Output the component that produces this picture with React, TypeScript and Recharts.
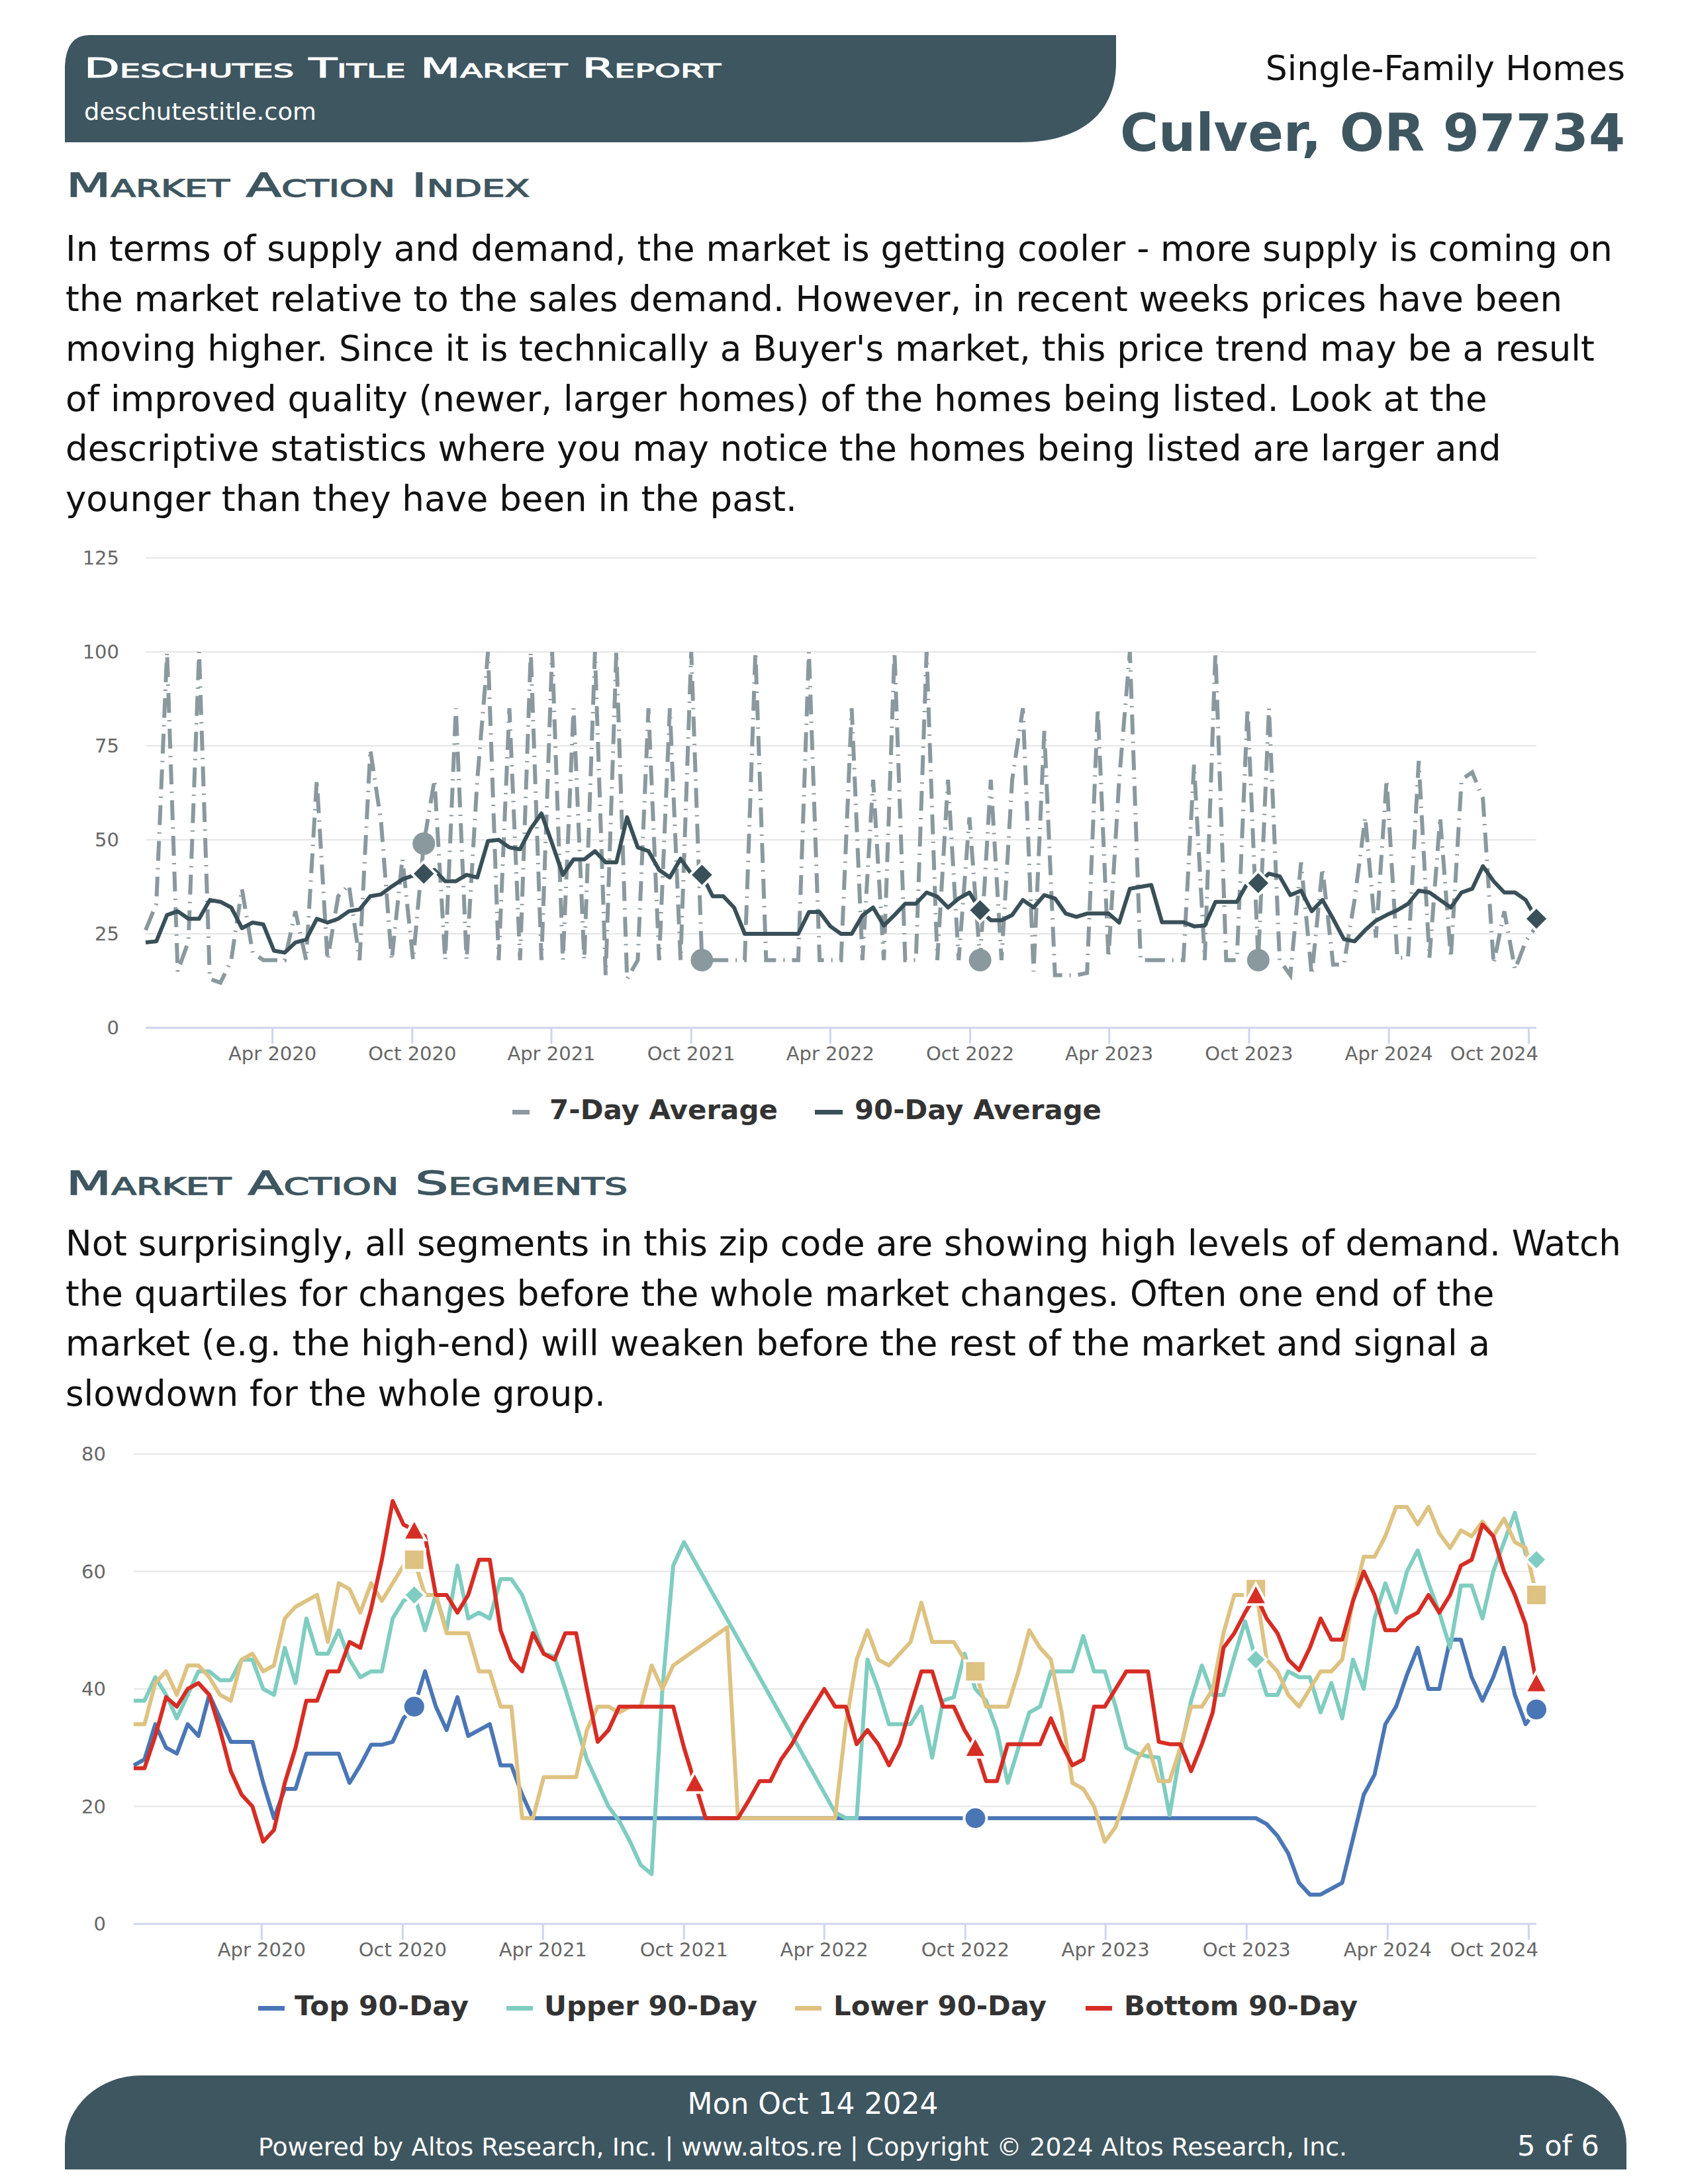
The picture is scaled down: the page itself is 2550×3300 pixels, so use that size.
import React from 'react'
import { LineChart, Line, XAxis, YAxis, CartesianGrid } from 'recharts'

const FONT = "'DejaVu Sans', Verdana, sans-serif"
const SLATE = '#3e5660'

// one reading every two weeks, the last one on 11 Oct 2024
const LAST_DAY = Date.UTC(2024, 9, 11)
const STEP_DAYS = 14
const DAY = 86400000

const tickDates = [
  Date.UTC(2020, 3, 1), Date.UTC(2020, 9, 1), Date.UTC(2021, 3, 1), Date.UTC(2021, 9, 1),
  Date.UTC(2022, 3, 1), Date.UTC(2022, 9, 1), Date.UTC(2023, 3, 1), Date.UTC(2023, 9, 1),
  Date.UTC(2024, 3, 1), Date.UTC(2024, 9, 1),
]
const tickLabels = [
  'Apr 2020', 'Oct 2020', 'Apr 2021', 'Oct 2021', 'Apr 2022',
  'Oct 2022', 'Apr 2023', 'Oct 2023', 'Apr 2024', 'Oct 2024',
]

// Market Action Index
const sevenDay = [
  26, 33, 100, 15, 23, 100, 13, 12, 18, 37,
  20, 18, 18, 18, 31, 18, 66, 18, 35, 38,
  18, 74, 55, 18, 45, 18, 49, 66, 18, 85,
  18, 66, 100, 18, 85, 18, 100, 18, 100, 18,
  85, 18, 100, 14, 100, 13, 18, 85, 18, 85,
  18, 100, 18, 18, 18, 18, 18, 100, 18, 18,
  18, 18, 100, 18, 18, 18, 85, 18, 66, 18,
  100, 18, 18, 100, 18, 66, 18, 56, 18, 66,
  18, 66, 85, 15, 79, 14, 14, 14, 14.6, 85,
  18.6, 66, 100, 18, 18, 18, 18, 18, 70, 18,
  100, 18, 18, 85, 18, 85, 18, 14, 44, 14,
  42.5, 16.8, 16.8, 34, 56, 24, 66, 18.6, 18.6, 71,
  18.6, 56, 18.6, 66, 68, 61, 17, 31, 15.5, 23,
  27,
]
const ninetyDay = [
  22.7, 23, 30, 31, 29, 29, 34, 33.5, 32, 26.5,
  28, 27.5, 20.5, 20, 22.7, 23.5, 29, 28, 29, 31,
  31.5, 35, 35.5, 37.6, 39.5, 40.5, 41, 42, 39, 39,
  40.7, 40, 49.7, 50, 48, 47.5, 53, 57, 49, 40.7,
  44.8, 44.8, 47, 44, 44, 56, 48, 47, 42, 40,
  45, 41, 40.7, 35, 35, 32, 25, 25, 25, 25,
  25, 25, 30.8, 30.8, 27, 25, 25, 29.9, 32, 27.2,
  30, 33, 33, 36, 34.9, 32, 34.4, 36, 31.3, 28.6,
  28.6, 30, 34, 32, 35.3, 34.4, 30.4, 29.5, 30.4, 30.4,
  30.4, 28, 37, 37.5, 38, 28.1, 28.1, 28.1, 27, 27.2,
  33.5, 33.5, 33.5, 38.5, 38.5, 41, 40.3, 35.3, 36.5, 31,
  34, 29, 23.6, 23, 26, 28.5, 30, 31.3, 33, 36.5,
  36, 34, 32, 36, 37, 43, 39, 36, 36, 34,
  29,
]

// Market Action Segments
const top90 = [
  27, 28, 34, 30, 29, 34, 32, 39, 35, 31,
  31, 31, 24, 18, 23, 23, 29, 29, 29, 29,
  24, 27, 30.5, 30.5, 31, 35, 37, 43, 37, 33,
  38.6, 32, 33, 34, 27, 27, 22, 18, 18, 18,
  18, 18, 18, 18, 18, 18, 18, 18, 18, 18,
  18, 18, 18, 18, 18, 18, 18, 18, 18, 18,
  18, 18, 18, 18, 18, 18, 18, 18, 18, 18,
  18, 18, 18, 18, 18, 18, 18, 18, 18, 18,
  18, 18, 18, 18, 18, 18, 18, 18, 18, 18,
  18, 18, 18, 18, 18, 18, 18, 18, 18, 18,
  18, 18, 18, 18, 18, 17, 15, 12, 7, 5,
  5, 6, 7, 14.5, 22, 25.4, 34, 37, 42.4, 47,
  40, 40, 48.4, 48.4, 42, 38, 42, 47, 39, 34,
  36.5,
]
const upper90 = [
  38, 38, 42, 39, 35, 39, 43, 43, 41.5, 41.5,
  45, 45, 40, 39, 47, 41, 52, 46, 46, 50,
  45, 42, 43, 43, 52, 55, 56, 50, 56, 50,
  61, 52, 53, 52, 58.7, 58.7, 56, 51, 46, 45.5,
  40, 34, 28, 24, 20, 17.5, 14, 10, 8.5, 40,
  61, 65, null, null, null, null, null, null, null, null,
  null, null, null, null, null, 19, 18, 18, 45, 40,
  34, 34, 34, 37, 28.3, 38, 38.6, 46, 40, 38,
  33, 24, 30, 36, 37, 43, 43, 43, 49, 43,
  43, 37, 30, 29, 28.5, 28.3, 18.5, 29.4, 38, 44,
  39, 39, 45.5, 51.5, 45, 39, 39, 43, 42, 42,
  36, 41, 35, 45, 40, 52, 58, 53, 60, 63.6,
  58, 53, 47, 57.6, 57.6, 52, 60, 65, 70, 63,
  62,
]
const lower90 = [
  34, 34, 41, 43, 39, 44, 44, 42, 39, 38,
  45, 46, 43, 44, 52, 54, 55, 56, 48, 58,
  57, 53, 58, 55, 58, 61, 62, 56, 56, 49.5,
  49.5, 49.5, 43, 43, 37, 37, 18, 18, 25, 25,
  25, 25, 33, 37, 37, 36, 37, 37, 44, 40,
  44, null, null, null, null, 50.5, 18, 18, 18, 18,
  18, 18, 18, 18, 18, 18, 34, 45, 50, 45,
  44, 46, 48, 54.7, 48, 48, 48, 45, 43, 37,
  37, 37, 43, 50, 47, 45, 36, 24, 23, 20,
  14, 16.5, 22, 28, 30.5, 24.3, 24.3, 30, 37, 37,
  40, 49.5, 56, 56, 57, 45, 43, 39, 37, 40,
  43, 43, 45, 55, 62.5, 62.5, 66, 71, 71, 68,
  71, 66.5, 64, 67, 66, 68.5, 66, 69, 65, 64,
  56,
]
const bottom90 = [
  26.5, 26.5, 32, 38.6, 37, 40, 41, 39, 33, 26,
  22, 20, 14, 16, 24, 30, 38, 38, 43, 43,
  48, 47, 53.6, 62, 72, 68, 67, 66, 56, 56,
  53, 56, 62, 62, 50, 45, 43, 49.5, 46, 45,
  49.5, 49.5, 40, 31, 33, 37, 37, 37, 37, 37,
  37, 30, 24, 18, 18, 18, 18, 21, 24.3, 24.3,
  28, 30.6, 34, 37, 40, 37, 37, 30.6, 33, 30.6,
  27, 30.6, 37, 43, 43, 37, 37, 33, 30, 24.3,
  24.3, 30.6, 30.6, 30.6, 30.6, 35, 30.6, 27, 28, 37,
  37, 40, 43, 43, 43, 31, 30.6, 30.6, 26, 30.6,
  36, 47, 49.5, 53, 56, 52, 49.5, 45, 43.2, 47,
  52, 48.4, 48.4, 55, 60, 56, 50, 50, 52, 53,
  56, 53, 56, 61, 62, 68, 66, 60, 56, 51,
  41,
]

// yearly markers (index of the reading)
const marks7 = [26, 52, 78, 104]
const marks90 = [26, 52, 78, 104, 130]
const marksTop = [26, 78, 130]
const marksUpper = [26, 104, 130]
const marksLower = [26, 78, 104, 130]
const marksBottom = [26, 52, 78, 104, 130]

const dateAt = (i: number, n: number) => LAST_DAY - (n - 1 - i) * STEP_DAYS * DAY

const indexData = sevenDay.map((v, i) => ({
  t: dateAt(i, sevenDay.length),
  d7: v,
  d90: ninetyDay[i],
}))

const segmentData = top90.map((v, i) => ({
  t: dateAt(i, top90.length),
  top: v,
  upper: upper90[i],
  lower: lower90[i],
  bottom: bottom90[i],
}))

function makeDot(keep: number[], shape: string, fill: string, r: number, ring: number) {
  return (p: any) => {
    const { cx, cy, index } = p
    if (cx == null || cy == null || !keep.includes(index)) return <g key={`n${index}`} />
    let el
    if (shape === 'circle') el = <circle cx={cx} cy={cy} r={r} />
    else if (shape === 'diamond')
      el = <path d={`M${cx},${cy - r}L${cx + r},${cy}L${cx},${cy + r}L${cx - r},${cy}Z`} />
    else if (shape === 'square') el = <rect x={cx - r} y={cy - r} width={2 * r} height={2 * r} />
    else el = <path d={`M${cx},${cy - r}L${cx + r},${cy + r * 0.85}L${cx - r},${cy + r * 0.85}Z`} />
    return (
      <g key={`m${index}`} fill={fill} stroke="#ffffff" strokeWidth={ring}>
        {el}
      </g>
    )
  }
}

function XTick(props: any) {
  const { x, y, payload } = props
  const i = tickDates.indexOf(payload.value)
  const last = i === tickDates.length - 1
  return (
    <text
      x={last ? 2324 : x}
      y={y + 25}
      textAnchor={last ? 'end' : 'middle'}
      fill="#666666"
      fontSize={29}
      fontFamily={FONT}
    >
      {tickLabels[i]}
    </text>
  )
}

const yTick = { fill: '#666666', fontSize: 29, fontFamily: FONT }
const axisLine = { stroke: '#ccd6eb', strokeWidth: 3 }

const para1 = [
  'In terms of supply and demand, the market is getting cooler - more supply is coming on',
  'the market relative to the sales demand. However, in recent weeks prices have been',
  "moving higher. Since it is technically a Buyer's market, this price trend may be a result",
  'of improved quality (newer, larger homes) of the homes being listed. Look at the',
  'descriptive statistics where you may notice the homes being listed are larger and',
  'younger than they have been in the past.',
]
const para2 = [
  'Not surprisingly, all segments in this zip code are showing high levels of demand. Watch',
  'the quartiles for changes before the whole market changes. Often one end of the',
  'market (e.g. the high-end) will weaken before the rest of the market and signal a',
  'slowdown for the whole group.',
]

const capsStyle = { fontVariant: 'small-caps' as const }

export default function App() {
  return (
    <div
      style={{
        position: 'absolute',
        left: 0,
        top: 0,
        width: 2550,
        height: 3300,
        background: '#ffffff',
        fontFamily: FONT,
      }}
    >
      <svg width={2550} height={3300} style={{ position: 'absolute', left: 0, top: 0 }}>
        {/* header */}
        <path d="M98,215 L98,100 Q100,53 135,53 L1686,53 L1686,95 C1686,165 1640,215 1540,215 Z" fill={SLATE} />
        <text x={127} y={117} fill="#ffffff" stroke="#ffffff" strokeWidth={1.1} fontSize={41} fontFamily={FONT}
          style={capsStyle} textLength={962} lengthAdjust="spacingAndGlyphs">
          Deschutes Title Market Report
        </text>
        <text x={127} y={181} fill="#ffffff" fontSize={36} fontFamily={FONT}
          textLength={351} lengthAdjust="spacingAndGlyphs">
          deschutestitle.com
        </text>
        <text x={2455} y={121} textAnchor="end" fill="#111111" fontSize={52} fontFamily={FONT}>
          Single-Family Homes
        </text>
        <text x={2455} y={228} textAnchor="end" fill={SLATE} fontSize={79} fontWeight="bold"
          fontFamily={FONT} textLength={763} lengthAdjust="spacingAndGlyphs">
          Culver, OR 97734
        </text>

        {/* section 1 */}
        <text x={100} y={297} fill={SLATE} stroke={SLATE} strokeWidth={1.3} fontSize={50} fontFamily={FONT}
          style={capsStyle} textLength={700} lengthAdjust="spacingAndGlyphs">
          Market Action Index
        </text>
        {para1.map((line, i) => (
          <text key={i} x={99} y={394 + i * 75.5} fill="#111111" fontSize={53} fontFamily={FONT}>
            {line}
          </text>
        ))}

        {/* legend 1 */}
        <rect x={774} y={1677} width={26} height={7} fill="#8a999e" />
        <text x={830} y={1691} fill="#333333" fontSize={41} fontWeight="bold" fontFamily={FONT}
          textLength={345} lengthAdjust="spacingAndGlyphs">
          7-Day Average
        </text>
        <rect x={1231} y={1677} width={42} height={7} fill="#3a5058" />
        <text x={1291} y={1691} fill="#333333" fontSize={41} fontWeight="bold" fontFamily={FONT}
          textLength={373} lengthAdjust="spacingAndGlyphs">
          90-Day Average
        </text>

        {/* section 2 */}
        <text x={100} y={1805} fill={SLATE} stroke={SLATE} strokeWidth={1.3} fontSize={50} fontFamily={FONT}
          style={capsStyle} textLength={848} lengthAdjust="spacingAndGlyphs">
          Market Action Segments
        </text>
        {para2.map((line, i) => (
          <text key={i} x={99} y={1897 + i * 75.5} fill="#111111" fontSize={53} fontFamily={FONT}>
            {line}
          </text>
        ))}

        {/* legend 2 */}
        <rect x={390} y={3031} width={40} height={7} fill="#4a76b5" />
        <text x={445} y={3045} fill="#333333" fontSize={41} fontWeight="bold" fontFamily={FONT}
          textLength={263} lengthAdjust="spacingAndGlyphs">Top 90-Day</text>
        <rect x={765} y={3031} width={40} height={7} fill="#7fcdc0" />
        <text x={822} y={3045} fill="#333333" fontSize={41} fontWeight="bold" fontFamily={FONT}
          textLength={322} lengthAdjust="spacingAndGlyphs">Upper 90-Day</text>
        <rect x={1201} y={3031} width={40} height={7} fill="#dec282" />
        <text x={1259} y={3045} fill="#333333" fontSize={41} fontWeight="bold" fontFamily={FONT}
          textLength={322} lengthAdjust="spacingAndGlyphs">Lower 90-Day</text>
        <rect x={1640} y={3031} width={40} height={7} fill="#d62d24" />
        <text x={1698} y={3045} fill="#333333" fontSize={41} fontWeight="bold" fontFamily={FONT}
          textLength={353} lengthAdjust="spacingAndGlyphs">Bottom 90-Day</text>

        {/* footer */}
        <path d="M98,3278 L98,3241 A115,105 0 0 1 213,3136 L2342,3136 A115,105 0 0 1 2457,3241 L2457,3278 Z" fill={SLATE} />
        <text x={1228} y={3194} textAnchor="middle" fill="#ffffff" fontSize={44} fontFamily={FONT}>
          Mon Oct 14 2024
        </text>
        <text x={390} y={3257} fill="#ffffff" fontSize={37} fontFamily={FONT}
          textLength={1645} lengthAdjust="spacingAndGlyphs">
          Powered by Altos Research, Inc. | www.altos.re | Copyright © 2024 Altos Research, Inc.
        </text>
        <text x={2292} y={3257} fill="#ffffff" fontSize={42} fontFamily={FONT}
          textLength={124} lengthAdjust="spacingAndGlyphs">
          5 of 6
        </text>
      </svg>

      <div style={{ position: 'absolute', left: 0, top: 800 }}>
        <LineChart width={2340} height={833} data={indexData} margin={{ top: 43, right: 19, bottom: 0, left: 0 }}>
          <CartesianGrid vertical={false} stroke="#e6e6e6" strokeWidth={2} />
          <XAxis
            dataKey="t"
            type="number"
            domain={['dataMin', 'dataMax']}
            ticks={tickDates}
            interval={0}
            height={80}
            tickSize={24}
            tickMargin={0}
            axisLine={axisLine}
            tickLine={axisLine}
            tick={<XTick />}
          />
          <YAxis
            width={220}
            domain={[0, 125]}
            ticks={[0, 25, 50, 75, 100, 125]}
            axisLine={false}
            tickLine={false}
            tickSize={0}
            tickMargin={40}
            tick={yTick}
          />
          <Line
            dataKey="d7"
            type="linear"
            stroke="#8a999e"
            strokeWidth={6}
            strokeDasharray="30 11 2 11"
            dot={makeDot(marks7, 'circle', '#8a999e', 17, 0)}
            activeDot={false}
            isAnimationActive={false}
          />
          <Line
            dataKey="d90"
            type="linear"
            stroke="#3a5058"
            strokeWidth={6}
            strokeLinejoin="round"
            dot={makeDot(marks90, 'diamond', '#3a5058', 18, 4)}
            activeDot={false}
            isAnimationActive={false}
          />
        </LineChart>
      </div>

      <div style={{ position: 'absolute', left: 0, top: 2150 }}>
        <LineChart width={2340} height={837} data={segmentData} margin={{ top: 47, right: 19, bottom: 0, left: 0 }}>
          <CartesianGrid vertical={false} stroke="#e6e6e6" strokeWidth={2} />
          <XAxis
            dataKey="t"
            type="number"
            domain={['dataMin', 'dataMax']}
            ticks={tickDates}
            interval={0}
            height={80}
            tickSize={24}
            tickMargin={0}
            axisLine={axisLine}
            tickLine={axisLine}
            tick={<XTick />}
          />
          <YAxis
            width={202}
            domain={[0, 80]}
            ticks={[0, 20, 40, 60, 80]}
            axisLine={false}
            tickLine={false}
            tickSize={0}
            tickMargin={42}
            tick={yTick}
          />
          <Line dataKey="top" type="linear" stroke="#4a76b5" strokeWidth={6} strokeLinejoin="round"
            dot={makeDot(marksTop, 'circle', '#4a76b5', 17, 4)} activeDot={false} isAnimationActive={false} />
          <Line dataKey="upper" type="linear" stroke="#7fcdc0" strokeWidth={6} strokeLinejoin="round" connectNulls
            dot={makeDot(marksUpper, 'diamond', '#7fcdc0', 16, 4)} activeDot={false} isAnimationActive={false} />
          <Line dataKey="lower" type="linear" stroke="#dec282" strokeWidth={6} strokeLinejoin="round" connectNulls
            dot={makeDot(marksLower, 'square', '#dec282', 16, 4)} activeDot={false} isAnimationActive={false} />
          <Line dataKey="bottom" type="linear" stroke="#d62d24" strokeWidth={6} strokeLinejoin="round"
            dot={makeDot(marksBottom, 'triangle', '#d62d24', 17, 4)} activeDot={false} isAnimationActive={false} />
        </LineChart>
      </div>
    </div>
  )
}
